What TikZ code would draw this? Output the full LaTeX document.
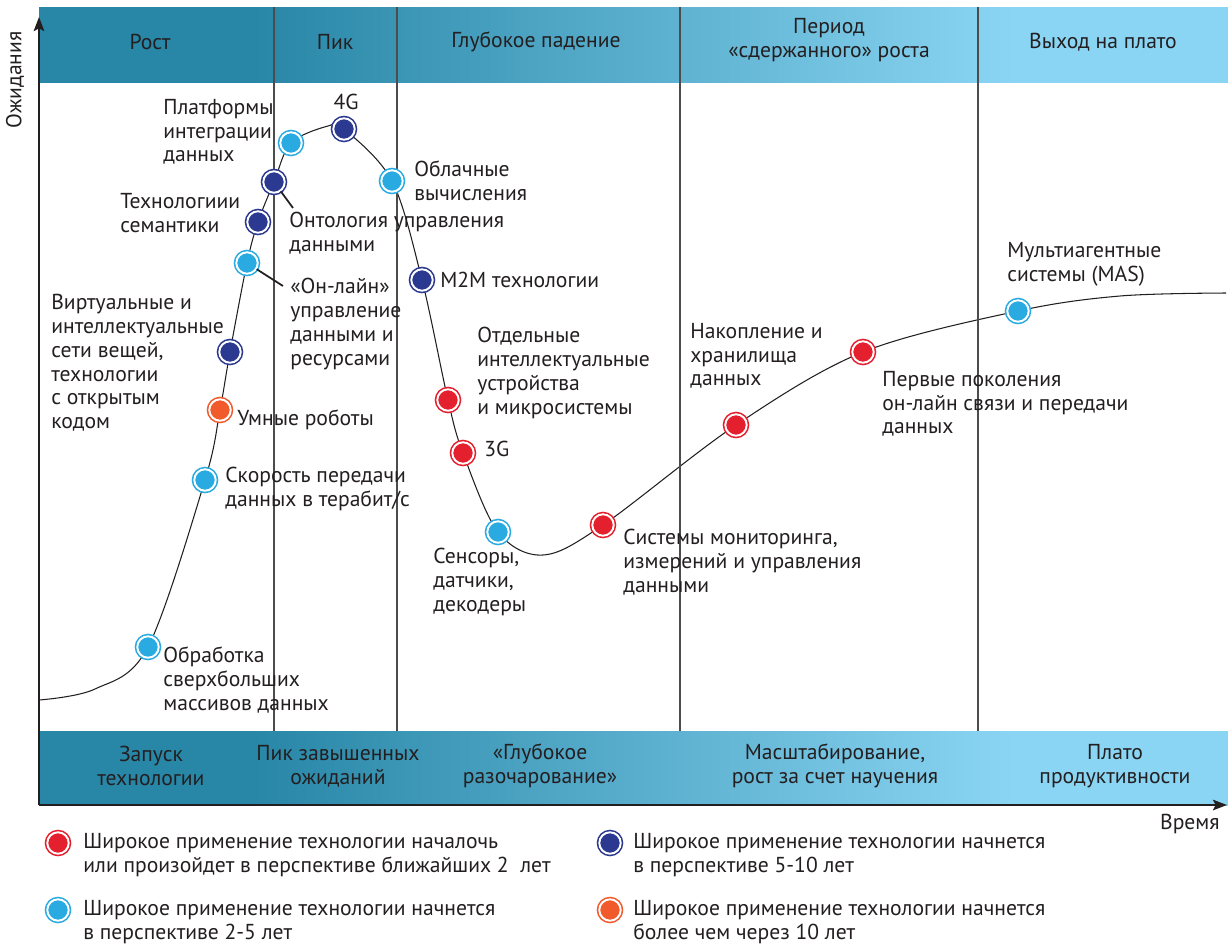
\documentclass[tikz,border=0pt]{standalone}
\usepackage{fontspec}
\setmainfont{PT Sans}
\usepackage{xcolor}
\usepackage{tikz}
\usetikzlibrary{arrows.meta,positioning,calc,backgrounds}
\definecolor{hypeA}{HTML}{2886A6}
\definecolor{hypeB}{HTML}{8AD5F3}
\definecolor{hypeInk}{HTML}{231F20}
\definecolor{dotRed}{HTML}{E5202E}
\definecolor{dotSky}{HTML}{29ABE2}
\definecolor{dotNavy}{HTML}{2B3990}
\definecolor{dotOrange}{HTML}{F15A2B}
\pgfdeclarehorizontalshading{hypeshade}{100bp}{color(0bp)=(hypeA); color(34bp)=(hypeA); color(66bp)=(hypeB); color(100bp)=(hypeB)}
\tikzset{
    hype text/.style={
        font=\fontsize{12.3}{13.5}\selectfont,
        text=hypeInk,
        align=left,
        inner sep=0pt,
        anchor=west
    },
    hype head/.style={hype text, align=center, anchor=center},
    hype band/.style={shading=hypeshade},
    hype dot/.style={
        circle,
        inner sep=0pt,
        minimum size=12.2pt,
        fill=#1,
        draw=#1,
        double=white,
        double distance=1.1pt,
        line width=0.9pt
    },
    hype axis/.style={-{Stealth[length=8pt, width=6pt, inset=1.5pt]}, line width=1.1pt, draw=hypeInk},
    hype curve/.style={line width=0.6pt, draw=hypeInk},
    hype div/.style={line width=0.6pt, draw=black!70},
    hype leader/.style={line width=1pt, draw=hypeInk}
}

\begin{document}
\begin{tikzpicture}[x=0.02cm, y=-0.02cm]
\useasboundingbox (0,0) rectangle (1228,948);

% bands and phase dividers
\shade[hype band] (39,7) rectangle (1228,82);
\foreach \xd in {274,397,680,978}
    \draw[hype div] (\xd,7) -- (\xd,731);
\shade[hype band] (39,731) rectangle (1228,805);

% phase titles
\node[hype head] (hRost) at (150,42) {Рост};
\node[hype head] (hPeak) at (335,42) {Пик};
\node[hype head] (hFall) at (536,42) {Глубокое падение};
\node[hype head] (hSlow) at (829,40) {Период\\«сдержанного» роста};
\node[hype head] (hPlat) at (1103,42) {Выход на плато};

\node[hype head] (sLaunch) at (151,766) {Запуск\\технологии};
\node[hype head] (sPeak) at (338,766) {Пик завышенных\\ожиданий};
\node[hype head] (sDis) at (540,766) {«Глубокое\\разочарование»};
\node[hype head] (sScale) at (835,766) {Масштабирование,\\рост за счет научения};
\node[hype head] (sPlat) at (1115,766) {Плато\\продуктивности};

% axes
\draw[hype axis] (39,805) -- (39,17);
\draw[hype axis] (39,805) -- (1227,805);
\node[hype text, rotate=90, anchor=center] (yLbl) at (15,80) {Ожидания};
\node[hype text, anchor=east] (xLbl) at (1220,824) {Время};

% technologies on the curve
\node[hype dot=dotSky] (d1) at (148,647) {};
\node[hype dot=dotSky] (d2) at (205,480) {};
\node[hype dot=dotOrange] (d3) at (220,410) {};
\node[hype dot=dotNavy] (d4) at (230,352) {};
\node[hype dot=dotSky] (d5) at (247,263) {};
\node[hype dot=dotNavy] (d6) at (258,222) {};
\node[hype dot=dotNavy] (d7) at (274,182) {};
\node[hype dot=dotSky] (d8) at (291,143) {};
\node[hype dot=dotNavy] (d9) at (344,129) {};
\node[hype dot=dotSky] (d10) at (392,181) {};
\node[hype dot=dotNavy] (d11) at (422,280) {};
\node[hype dot=dotRed] (d12) at (448,400) {};
\node[hype dot=dotRed] (d13) at (463,453) {};
\node[hype dot=dotSky] (d14) at (498,532) {};
\node[hype dot=dotRed] (d15) at (603,525) {};
\node[hype dot=dotRed] (d16) at (736,425) {};
\node[hype dot=dotRed] (d17) at (863,352) {};
\node[hype dot=dotSky] (d18) at (1018,311) {};

\begin{scope}[on background layer]
\draw[hype curve] plot[smooth, tension=0.55] coordinates {(39,700) (95,689) (d1) (d2) (d3) (d4) (d5) (d6) (d7) (d8) (328,126) (d9) (d10) (d11) (d12) (d13) (d14) (543,555) (d15) (d16) (d17) (d18) (1120,296) (1226,293)};
\end{scope}

% labels
\node[hype text] (lBig) at (163,680) {Обработка\\сверхбольших\\массивов данных};
\node[hype text] (lSpeed) at (225,489) {Скорость передачи\\данных в терабит/с};
\node[hype text] (lRob) at (237,420) {Умные роботы};
\node[hype text] (lVirt) at (51,363) {Виртуальные и\\интеллектуальные\\сети вещей,\\технологии\\с открытым\\кодом};
\node[hype text] (lOnline) at (290,324) {«Он-лайн»\\управление\\данными и\\ресурсами};
\node[hype text] (lSem) at (120,213) {Технологиии\\семантики};
\node[hype text] (lOnto) at (289,233) {Онтология управления\\данными};
\node[hype text] (lPlat) at (163,132) {Платформы\\интеграции\\данных};
\node[hype text, anchor=center] (l4G) at (346,102) {4G};
\node[hype text] (lCloud) at (414,181) {Облачные\\вычисления};
\node[hype text] (lM2M) at (440,280) {M2M технологии};
\node[hype text] (lSep) at (477,373) {Отдельные\\интеллектуальные\\устройства\\и микросистемы};
\node[hype text] (l3G) at (484,449) {3G};
\node[hype text] (lSens) at (433,582) {Сенсоры,\\датчики,\\декодеры};
\node[hype text] (lMon) at (623,562) {Системы мониторинга,\\измерений и управления\\данными};
\node[hype text] (lStore) at (690,356) {Накопление и\\хранилища\\данных};
\node[hype text] (lFirst) at (882,404) {Первые поколения\\он-лайн связи и передачи\\данных};
\node[hype text] (lMAS) at (1007,264) {Мультиагентные\\системы (MAS)};

\coordinate (kOnto) at (293,208);
\coordinate (kOnline) at (283,286);
\draw[hype leader] (d7) -- (kOnto);
\draw[hype leader] (d5) -- (kOnline);

% legend
\node[hype dot=dotRed] (lgRed) at (58,843) {};
\node[hype dot=dotSky] (lgSky) at (58,910) {};
\node[hype dot=dotNavy] (lgNavy) at (610,843) {};
\node[hype dot=dotOrange] (lgOrange) at (610,910) {};
\node[hype text] (tRed) at (83,855) {Широкое применение технологии началочь\\или произойдет в перспективе ближайших 2~ лет};
\node[hype text] (tSky) at (83,922) {Широкое применение технологии начнется\\в перспективе 2-5 лет};
\node[hype text] (tNavy) at (633,855) {Широкое применение технологии начнется\\в перспективе 5-10 лет};
\node[hype text] (tOrange) at (633,922) {Широкое применение технологии начнется\\более чем через 10 лет};
\end{tikzpicture}
\end{document}
